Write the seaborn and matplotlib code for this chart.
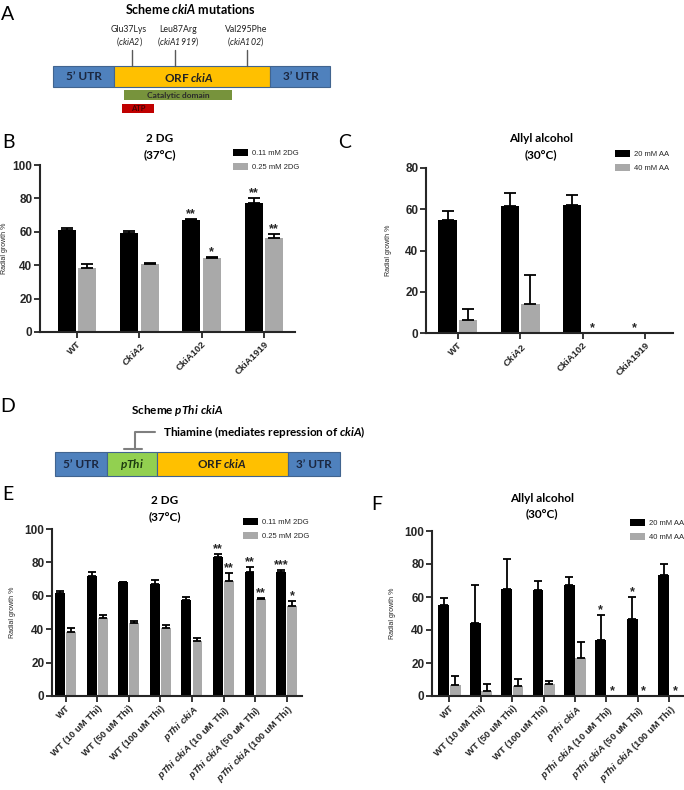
import numpy as np
import pandas as pd
import matplotlib
matplotlib.use('Agg')
import matplotlib.pyplot as plt
import matplotlib.patches as mpatches
import seaborn as sns

# ---------------------------------------------------------------
# Dados
# ---------------------------------------------------------------
cepas_bc = ['WT', r'$\mathit{CkiA2}$', 'CkiA102', 'CkiA1919']
cepas_ef = ['WT', 'WT (10 uM Thi)', 'WT (50 uM Thi)', 'WT (100 uM Thi)',
            r'$\mathit{pThi\ ckiA}$',
            r'$\mathit{pThi\ ckiA}$ (10 uM Thi)',
            r'$\mathit{pThi\ ckiA}$ (50 uM Thi)',
            r'$\mathit{pThi\ ckiA}$ (100 uM Thi)']
conc_2dg = ['0.11 mM 2DG', '0.25 mM 2DG']
conc_aa = ['20 mM AA', '40 mM AA']

# B - 2DG (37C)
b_media_1 = [61, 59, 67, 77]
b_dp_1 = [1.5, 1.2, 0.5, 3]
b_media_2 = [38.5, 40.5, 44.5, 56]
b_dp_2 = [2, 1, 0.5, 2.5]
b_est_1 = ['', '', '**', '**']
b_est_2 = ['', '', '*', '**']

# C - alcool alilico (30C)
c_media_1 = [55, 61.5, 62, 0]
c_dp_1 = [4, 6.5, 5, 0]
c_media_2 = [6.5, 14, 0, 0]
c_dp_2 = [5, 14, 0, 0]
c_est_1 = ['', '', '', '*']
c_est_2 = ['', '', '*', '']

# E - 2DG (37C), pThi
e_media_1 = [61.5, 72, 68, 67, 57.5, 83.5, 74, 74]
e_dp_1 = [1.5, 2, 0.3, 2.5, 2, 1.5, 3, 1.3]
e_media_2 = [38.5, 47, 43.5, 41, 33, 69, 58, 54]
e_dp_2 = [2, 1.5, 1.5, 1.5, 1.5, 4.5, 0.5, 3]
e_est_1 = ['', '', '', '', '', '**', '**', '***']
e_est_2 = ['', '', '', '', '', '**', '**', '*']

# F - alcool alilico (30C), pThi
f_media_1 = [55, 44.5, 65, 64.5, 67.4, 34, 46.8, 73.3]
f_dp_1 = [4.5, 23, 18, 5, 5, 15, 13, 7]
f_media_2 = [6.9, 2.8, 5.9, 7.1, 23, 0, 0, 0]
f_dp_2 = [5, 4.3, 4.4, 2, 9.6, 0, 0, 0]
f_est_1 = ['', '', '', '', '', '*', '*', '']
f_est_2 = ['', '', '', '', '', '*', '*', '*']

# ---------------------------------------------------------------
sns.set_style('ticks')
plt.rcParams['font.family'] = ['Liberation Sans', 'DejaVu Sans']
plt.rcParams['mathtext.fontset'] = 'custom'
plt.rcParams['mathtext.rm'] = 'Liberation Sans:bold'
plt.rcParams['mathtext.it'] = 'Liberation Sans:bold:italic'
plt.rcParams['mathtext.sf'] = 'Lato:bold:italic'
plt.rcParams['mathtext.cal'] = 'Lato:italic'

W, H = 684, 790
fig = plt.figure(figsize=(W / 100, H / 100), dpi=100)

# eixo "de fundo" em pixels para os esquemas e textos
ov = fig.add_axes([0, 0, 1, 1])
ov.set_xlim(0, W)
ov.set_ylim(H, 0)
ov.axis('off')


def txt(x, y, s, size, weight='bold', color='black', ha='center'):
    ov.text(x, y, s, fontsize=size, fontweight=weight, color=color,
            ha=ha, va='center', family=['Lato', 'DejaVu Sans'])


def caixa(x0, x1, y0, y1, fc, ec='#41648f', lw=0.8):
    ov.add_patch(mpatches.Rectangle((x0, y0), x1 - x0, y1 - y0,
                                    facecolor=fc, edgecolor=ec, lw=lw))


azul, laranja, verde_claro = '#4F81BD', '#FFC000', '#92D050'
cor_utr = '#1b2740'

# letras dos paineis
for letra, x, y in [('A', 8, 15), ('B', 8, 143), ('C', 345, 143),
                    ('D', 8, 407), ('E', 8, 495), ('F', 377, 505)]:
    txt(x, y, letra, 14, weight='normal')

# ---- Painel A
txt(190, 9, r'Scheme $\mathsf{ckiA}$ mutations', 9)
for xl, xt, nome, alelo in [(132, 129, 'Glu37Lys', 'ckiA2'),
                            (175, 178, 'Leu87Arg', 'ckiA1919'),
                            (247, 246, 'Val295Phe', 'ckiA102')]:
    ov.plot([xl, xl], [50, 66], color='#595959', lw=1)
    txt(xt, 30, nome, 6.3, weight='normal', color='#222222')
    txt(xt, 42, '($\\mathcal{' + alelo + '}$)', 6.3, weight='normal', color='#222222')

caixa(53, 114, 66, 87, azul)
caixa(114, 270, 66, 87, laranja)
caixa(270, 330, 66, 87, azul)
txt(84, 77, '5\u2019 UTR', 8.5, color=cor_utr)
txt(189, 77, r'ORF $\mathsf{ckiA}$', 8.5, color='#222222')
txt(301, 77, '3\u2019 UTR', 8.5, color=cor_utr)
caixa(124, 232, 90, 100, '#77933C', ec='none')
txt(178, 95.5, 'Catalytic domain', 6, color='#2b2b2b')
caixa(122, 154, 104, 113, '#C00000', ec='none')
txt(138, 108.5, 'ATP', 5.5, color='#4a0000')

# ---- Painel D
txt(177, 411, r'Scheme $\mathsf{pThi\ ckiA}$', 8.5)
txt(163, 432, r'Thiamine (mediates repression of $\mathsf{ckiA}$)', 8.5, ha='left')
ov.plot([155, 135, 135], [432, 432, 449], color='#7f7f7f', lw=1.5)
ov.plot([124, 142], [449, 449], color='#7f7f7f', lw=1.5)
caixa(55, 107, 452, 476, azul)
caixa(107, 157, 452, 476, verde_claro)
caixa(157, 288, 452, 476, laranja)
caixa(288, 340, 452, 476, azul)
txt(81, 464, '5\u2019 UTR', 8.5, color=cor_utr)
txt(132, 464, r'$\mathsf{pThi}$', 8.5, color='#1d3a10')
txt(222, 464, r'ORF $\mathsf{ckiA}$', 8.5, color='#222222')
txt(314, 464, '3\u2019 UTR', 8.5, color=cor_utr)

# titulos dos graficos
for x, y1, t1, t2 in [(160, 139, '2 DG', '(37\u00b0C)'),
                      (541, 139, 'Allyl alcohol', '(30\u00b0C)'),
                      (165, 501, '2 DG', '(37\u00b0C)'),
                      (542, 498, 'Allyl alcohol', '(30\u00b0C)')]:
    txt(x, y1, t1, 8.5)
    txt(x, y1 + 16, t2, 8.5)


# ---------------------------------------------------------------
def painel(caixa_px, xlim, ymax, cepas, niveis, medias, dps, estrelas,
           largura, gap, cap, ylab_dx, leg_xy, ytick_fs):
    l, r, y0, ytop = caixa_px
    ax = fig.add_axes([l / W, 1 - y0 / H, (r - l) / W, (y0 - ytop) / H])
    ax.set_facecolor('none')
    n = len(cepas)
    df = pd.DataFrame({'cepa': cepas * 2,
                       'conc': [niveis[0]] * n + [niveis[1]] * n,
                       'crescimento': medias[0] + medias[1]})
    sns.barplot(data=df, x='cepa', y='crescimento', hue='conc',
                palette=['black', '#a9a9a9'], saturation=1, errorbar=None,
                width=largura, gap=gap, linewidth=0, ax=ax)

    for cont, m, s, st in zip(ax.containers, medias, dps, estrelas):
        for barra, mv, sv, stv in zip(cont, m, s, st):
            x = barra.get_x() + barra.get_width() / 2
            if sv > 0:
                ax.errorbar(x, mv, yerr=[[0], [sv]], fmt='none', ecolor='black',
                            elinewidth=1.3, capsize=cap, capthick=1.3)
            if stv:
                ax.annotate(stv, (x, mv + sv), xytext=(0, 1.5),
                            textcoords='offset points', ha='center',
                            va='baseline', fontsize=9, fontweight='bold')

    ax.set_xlim(*xlim)
    ax.set_ylim(0, ymax)
    ax.set_yticks(np.arange(0, ymax + 1, 20))
    ax.set_xlabel('')
    ax.set_ylabel('Radial growth %', fontsize=5)
    ax.yaxis.set_label_coords(-ylab_dx / (r - l), 0.5)
    sns.despine(ax=ax)
    for lado in ['left', 'bottom']:
        ax.spines[lado].set_linewidth(1.5)
    ax.tick_params(width=1.3, length=4, pad=1.5)
    ax.tick_params(axis='y', labelsize=ytick_fs)
    ax.tick_params(axis='x', labelsize=6.8, labelrotation=45)
    plt.setp(ax.get_yticklabels(), fontweight='bold')
    plt.setp(ax.get_xticklabels(), fontweight='bold', ha='right',
             rotation_mode='anchor')

    sns.move_legend(ax, 'upper left',
                    bbox_to_anchor=(leg_xy[0] / W, 1 - leg_xy[1] / H),
                    bbox_transform=fig.transFigure, frameon=False,
                    fontsize=5.5, handlelength=1.9, handleheight=1.05,
                    labelspacing=0.75, handletextpad=0.6, borderpad=0,
                    borderaxespad=0)
    ax.get_legend().set_title('')
    return ax


painel((40, 295, 332, 165), (-0.594, 3.5), 100, cepas_bc, conc_2dg,
       [b_media_1, b_media_2], [b_dp_1, b_dp_2], [b_est_1, b_est_2],
       0.66, 0.12, 4, 31.5, (233, 149), 8.5)
painel((426, 673, 333, 168), (-0.51, 3.45), 80, cepas_bc, conc_aa,
       [c_media_1, c_media_2], [c_dp_1, c_dp_2], [c_est_1, c_est_2],
       0.66, 0.12, 4, 34.5, (615, 150), 8.5)
painel((52, 302, 696, 529), (-0.44, 7.49), 100, cepas_ef, conc_2dg,
       [e_media_1, e_media_2], [e_dp_1, e_dp_2], [e_est_1, e_est_2],
       0.7, 0.1, 3, 35.5, (243, 518), 8.5)
painel((432, 684, 696, 531), (-0.557, 7.47), 100, cepas_ef, conc_aa,
       [f_media_1, f_media_2], [f_dp_1, f_dp_2], [f_est_1, f_est_2],
       0.73, 0.06, 3, 36.5, (630, 519), 8.5)

fig.savefig('out.png', dpi=100)
